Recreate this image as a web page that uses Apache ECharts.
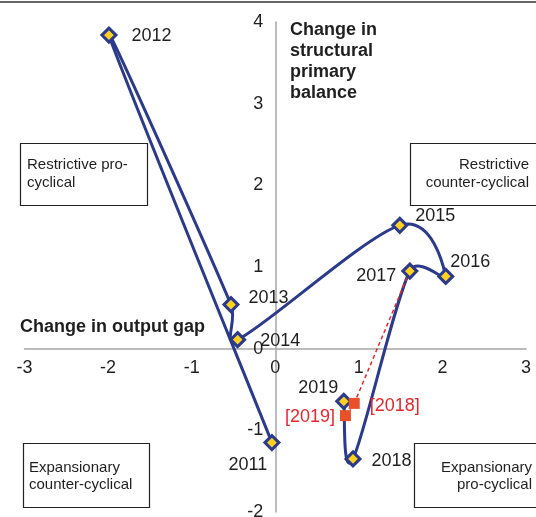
<!DOCTYPE html>
<html>
<head>
<meta charset="utf-8">
<script src="https://cdn.jsdelivr.net/npm/echarts@6/dist/echarts.min.js"></script>
<style>
  html, body { margin: 0; padding: 0; background: #fff; }
  #chart { width: 536px; height: 517px; }
</style>
</head>
<body>
<div id="chart"></div>
<script>
// years and values (x: change in output gap, y: change in structural primary balance)
var years = ['2011', '2012', '2013', '2014', '2015', '2016', '2017', '2018', '2019'];
var outputGap = [-0.04, -1.99, -0.53, -0.45, 1.49, 2.04, 1.61, 0.93, 0.82];
var structBal = [-1.15, 3.84, 0.54, 0.11, 1.51, 0.885, 0.95, -1.35, -0.645];

// earlier forecast points
var fcYears = ['[2018]', '[2019]'];
var fcGap = [0.945, 0.84];
var fcBal = [-0.67, -0.82];

var xTicks = [-3, -2, -1, 0, 1, 2, 3];
var yTicks = [-2, -1, 0, 1, 2, 3, 4];

var NAVY = '#2b3a8a';
var GOLD = '#ffd21f';
var RED = '#e8512a';
var TEXT = '#1f1f1f';
var FONT = 'Liberation Sans, Arial, sans-serif';

// label placement per year
var labelPlace = {
  '2011': { position: 'bottom', offset: [-24, 0] },
  '2012': { position: 'right', offset: [9, 1] },
  '2013': { position: 'right', offset: [4, -7] },
  '2014': { position: 'right', offset: [9, 1] },
  '2015': { position: 'right', offset: [2, -9] },
  '2016': { position: 'right', offset: [-9, -14] },
  '2017': { position: 'left', offset: [0, 5] },
  '2018': { position: 'right', offset: [5, 2] },
  '2019': { position: 'left', offset: [8, -13] },
  '[2018]': { position: 'right', offset: [5, 3] },
  '[2019]': { position: 'left', offset: [0, 1] }
};

var points = years.map(function (y, i) { return [outputGap[i], structBal[i], y]; });
var fcPoints = fcYears.map(function (y, i) { return [fcGap[i], fcBal[i], y]; });

function dist(a, b) {
  return Math.sqrt((a[0] - b[0]) * (a[0] - b[0]) + (a[1] - b[1]) * (a[1] - b[1]));
}

// smoothed segment i -> i+1 (spreadsheet-style bezier)
function renderCurve(params, api) {
  var n = outputGap.length;
  var i = params.dataIndex;
  if (i >= n - 1) return;
  var pt = function (k) {
    k = Math.max(0, Math.min(n - 1, k));
    return api.coord([outputGap[k], structBal[k]]);
  };
  var p0 = pt(i - 1), p1 = pt(i), p2 = pt(i + 1), p3 = pt(i + 2);
  var d12 = dist(p1, p2), d02 = dist(p0, p2), d13 = dist(p1, p3);
  var f1 = d02 / 6 > d12 / 2 ? d12 / 2 / d02 : 1 / 6;
  var f2 = d13 / 6 > d12 / 2 ? d12 / 2 / d13 : 1 / 6;
  return {
    type: 'bezierCurve',
    shape: {
      x1: p1[0], y1: p1[1],
      x2: p2[0], y2: p2[1],
      cpx1: p1[0] + (p2[0] - p0[0]) * f1,
      cpy1: p1[1] + (p2[1] - p0[1]) * f1,
      cpx2: p2[0] - (p3[0] - p1[0]) * f2,
      cpy2: p2[1] - (p3[1] - p1[1]) * f2
    },
    style: { stroke: NAVY, lineWidth: 3, fill: null }
  };
}

function itemLabel(name, color) {
  var place = labelPlace[name];
  return {
    show: true,
    formatter: name,
    position: place.position,
    offset: place.offset,
    color: color,
    fontSize: 18,
    fontFamily: FONT,
    distance: 5
  };
}

// tick labels that sit on the crossing axes
function tickSeries(data, position, distance, fmt) {
  return {
    type: 'scatter',
    data: data,
    symbol: 'circle',
    symbolSize: 0.1,
    itemStyle: { color: 'rgba(0,0,0,0)', opacity: 1 },
    silent: true,
    label: {
      show: true,
      position: position,
      distance: distance,
      formatter: fmt,
      color: TEXT,
      fontSize: 18,
      fontFamily: FONT
    },
    z: 2
  };
}

var chart = echarts.init(document.getElementById('chart'));
chart.setOption({
  animation: false,
  backgroundColor: '#fff',
  grid: { left: 24.5, right: 10, top: 22, bottom: 5, outerBoundsMode: 'none', containLabel: false },
  xAxis: {
    type: 'value',
    min: xTicks[0], max: xTicks[xTicks.length - 1], interval: 1,
    axisLine: { onZero: true, lineStyle: { color: '#a6a6a6', width: 1.5 } },
    axisTick: { show: false },
    splitLine: { show: false },
    axisLabel: { show: false }
  },
  yAxis: {
    type: 'value',
    min: yTicks[0], max: yTicks[yTicks.length - 1], interval: 1,
    axisLine: { onZero: true, lineStyle: { color: '#a6a6a6', width: 1.5 } },
    axisTick: { show: false },
    splitLine: { show: false },
    axisLabel: { show: false }
  },
  graphic: [
    { type: 'line', shape: { x1: 0, y1: 2, x2: 536, y2: 2 }, style: { stroke: '#333', lineWidth: 1.5 } },
    // quadrant boxes
    { type: 'rect', shape: { x: 20.5, y: 143.5, width: 127, height: 62 }, style: { fill: '#fff', stroke: '#222', lineWidth: 1.2 }, z: 1 },
    { type: 'text', x: 27, y: 156, style: { text: 'Restrictive pro-\ncyclical', font: '15px ' + FONT, fill: TEXT, lineHeight: 18 }, z: 1 },
    { type: 'rect', shape: { x: 410.5, y: 143.5, width: 140, height: 62 }, style: { fill: '#fff', stroke: '#222', lineWidth: 1.2 }, z: 1 },
    { type: 'text', x: 529, y: 156, style: { text: 'Restrictive\ncounter-cyclical', font: '15px ' + FONT, fill: TEXT, lineHeight: 18, align: 'right' }, z: 1 },
    { type: 'rect', shape: { x: 23.5, y: 443.5, width: 126, height: 64 }, style: { fill: '#fff', stroke: '#222', lineWidth: 1.2 }, z: 1 },
    { type: 'text', x: 29, y: 459, style: { text: 'Expansionary\ncounter-cyclical', font: '15px ' + FONT, fill: TEXT, lineHeight: 17 }, z: 1 },
    { type: 'rect', shape: { x: 414.5, y: 443.5, width: 140, height: 64 }, style: { fill: '#fff', stroke: '#222', lineWidth: 1.2 }, z: 1 },
    { type: 'text', x: 532, y: 459, style: { text: 'Expansionary\npro-cyclical', font: '15px ' + FONT, fill: TEXT, lineHeight: 17, align: 'right' }, z: 1 },
    // axis titles
    { type: 'text', x: 290, y: 19.5, style: { text: 'Change in\nstructural\nprimary\nbalance', font: 'bold 18px ' + FONT, fill: TEXT, lineHeight: 21 }, z: 1 },
    { type: 'text', x: 20, y: 318, style: { text: 'Change in output gap', font: 'bold 18px ' + FONT, fill: TEXT }, z: 1 }
  ],
  series: [
    tickSeries(xTicks.map(function (t) { return [t, 0]; }), 'bottom', 10,
      function (p) { return String(p.value[0]); }),
    tickSeries(yTicks.map(function (t) { return [0, t]; }), 'left', 12,
      function (p) { return String(p.value[1]); }),
    {
      type: 'custom',
      data: points,
      encode: { x: 0, y: 1 },
      renderItem: renderCurve,
      silent: true,
      z: 3
    },
    {
      type: 'line',
      data: [[outputGap[6], structBal[6]]].concat(fcPoints),
      symbol: 'none',
      lineStyle: { color: '#e8262d', width: 1.5, type: [4, 3] },
      z: 4
    },
    {
      type: 'scatter',
      data: points.map(function (p) {
        return { value: p, label: itemLabel(p[2], TEXT) };
      }),
      symbol: 'diamond',
      symbolSize: 14,
      itemStyle: { color: GOLD, borderColor: NAVY, borderWidth: 3, opacity: 1 },
      z: 5
    },
    {
      type: 'scatter',
      data: fcPoints.map(function (p) {
        return { value: p, label: itemLabel(p[2], '#e8262d') };
      }),
      symbol: 'rect',
      symbolSize: 11,
      itemStyle: { color: RED, opacity: 1 },
      z: 6
    }
  ]
});
</script>
</body>
</html>
